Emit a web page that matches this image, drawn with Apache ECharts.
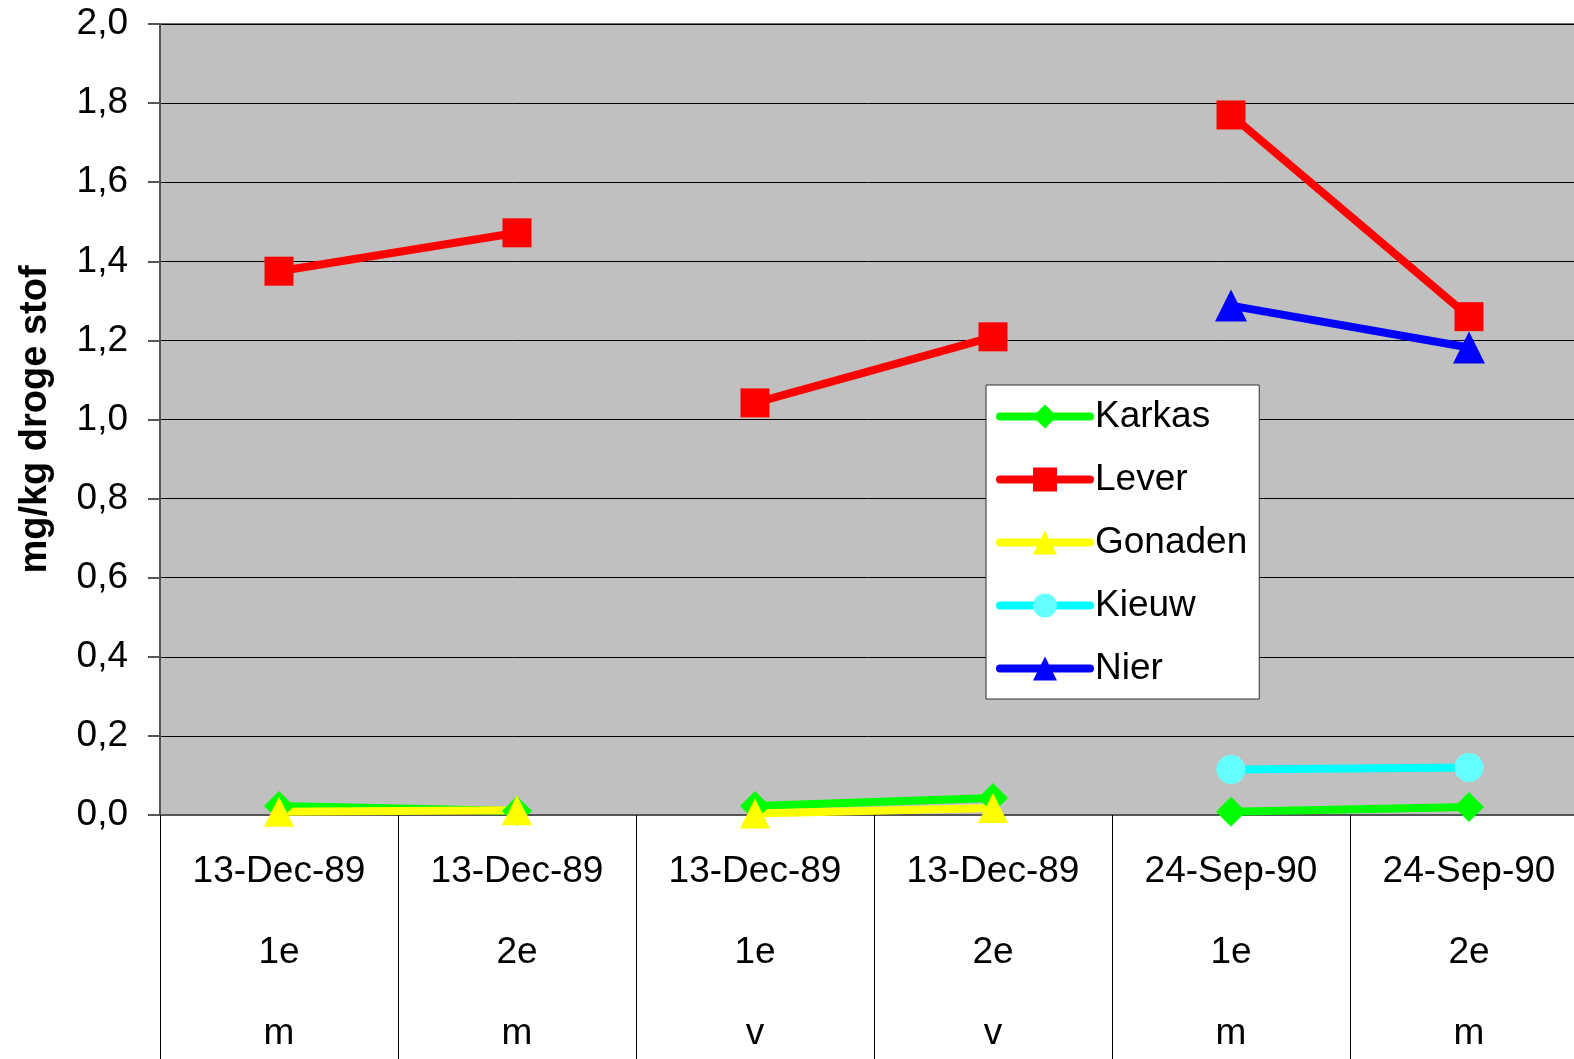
<!DOCTYPE html>
<html>
<head>
<meta charset="utf-8">
<script src="https://cdn.jsdelivr.net/npm/echarts@6/dist/echarts.min.js"></script>
<style>
  html, body { margin: 0; padding: 0; background: #fff; }
  #chart { width: 1574px; height: 1059px; }
</style>
</head>
<body>
<div id="chart"></div>
<script>
// categorieën (datum / monster / geslacht)
const dates = ["13-Dec-89", "13-Dec-89", "13-Dec-89", "13-Dec-89", "24-Sep-90", "24-Sep-90"];
const rounds = ["1e", "2e", "1e", "2e", "1e", "2e"];
const sexes = ["m", "m", "v", "v", "m", "m"];

// mg/kg droge stof
const karkas = [0.023, 0.01, 0.023, 0.043, 0.008, 0.02];
const lever = [1.375, 1.472, 1.042, 1.209, 1.77, 1.26];
const gonaden = [0.008, 0.012, 0.004, 0.018, null, null];
const kieuw = [null, null, null, null, 0.115, 0.12];
const nier = [null, null, null, null, 1.288, 1.182];

const yTicks = { min: 0, max: 2, interval: 0.2 };

const categories = dates.map((d, i) => d + "\n" + "\n" + rounds[i] + "\n" + "\n" + sexes[i]);

const defs = [
  { name: "Karkas", data: karkas, color: "#00ff00", symbolColor: "#00ff00", symbol: "diamond", size: 30 },
  { name: "Lever", data: lever, color: "#ff0000", symbolColor: "#ff0000", symbol: "rect", size: 29 },
  { name: "Gonaden", data: gonaden, color: "#ffff00", symbolColor: "#ffff00", symbol: "triangle", size: 30 },
  { name: "Kieuw", data: kieuw, color: "#00ffff", symbolColor: "#66ffff", symbol: "circle", size: 29 },
  { name: "Nier", data: nier, color: "#0000ff", symbolColor: "#0000ff", symbol: "triangle", size: 32 },
];

// lijnen alleen binnen een paar (1e-2e) verbinden
const seriesConfig = [];
defs.forEach((d) => {
  for (let p = 0; p < d.data.length; p += 2) {
    if (d.data[p] == null && d.data[p + 1] == null) continue;
    const arr = d.data.map((v, i) => (i === p || i === p + 1 ? v : null));
    seriesConfig.push({
      name: d.name,
      type: "line",
      data: arr,
      symbol: d.symbol,
      symbolSize: d.size,
      itemStyle: { color: d.symbolColor },
      lineStyle: { color: d.color, width: 8 },
      connectNulls: false,
      animation: false,
    });
  }
});

const chart = echarts.init(document.getElementById("chart"));
const font = "Liberation Sans, Arial, sans-serif";

const option = {
  animation: false,
  textStyle: { fontFamily: font },
  grid: {
    left: 160,
    width: 1428,
    top: 24,
    bottom: 244,
    outerBoundsMode: "none",
    containLabel: false,
    show: true,
    backgroundColor: "#c0c0c0",
    borderColor: "#707070",
    borderWidth: 2,
  },
  legend: {
    orient: "vertical",
    left: 986,
    top: 385,
    data: defs.map((d) => d.name),
    backgroundColor: "#fff",
    borderColor: "#333",
    borderWidth: 1,
    borderRadius: 0,
    padding: [13, 12, 12, 10],
    itemWidth: 90,
    itemHeight: 30,
    itemGap: 26,
    lineStyle: { width: 8, cap: "round" },
    textStyle: { fontSize: 37, lineHeight: 37, color: "#000", fontFamily: font },
  },
  xAxis: {
    type: "category",
    data: categories,
    boundaryGap: true,
    axisLine: { lineStyle: { color: "#555", width: 2 } },
    axisTick: { show: true, interval: 0, length: 246, lineStyle: { color: "#000", width: 1 } },
    axisLabel: {
      interval: 0,
      color: "#000",
      fontSize: 37,
      lineHeight: 40.5,
      margin: 37,
      fontFamily: font,
    },
  },
  yAxis: {
    type: "value",
    min: yTicks.min,
    max: yTicks.max,
    interval: yTicks.interval,
    name: "mg/kg droge stof",
    nameLocation: "middle",
    nameRotate: 90,
    nameGap: 105,
    nameTextStyle: { fontSize: 38, fontWeight: "bold", color: "#000", fontFamily: font },
    axisLine: { show: true, lineStyle: { color: "#555", width: 2 } },
    axisTick: { show: true, length: 12, lineStyle: { color: "#555", width: 2 } },
    axisLabel: {
      color: "#000",
      fontSize: 37,
      margin: 32,
      fontFamily: font,
      formatter: (v) => v.toFixed(1).replace(".", ","),
    },
    splitLine: { show: true, lineStyle: { color: "#000", width: 1 } },
  },
  series: seriesConfig,
};

chart.setOption(option);
</script>
</body>
</html>
